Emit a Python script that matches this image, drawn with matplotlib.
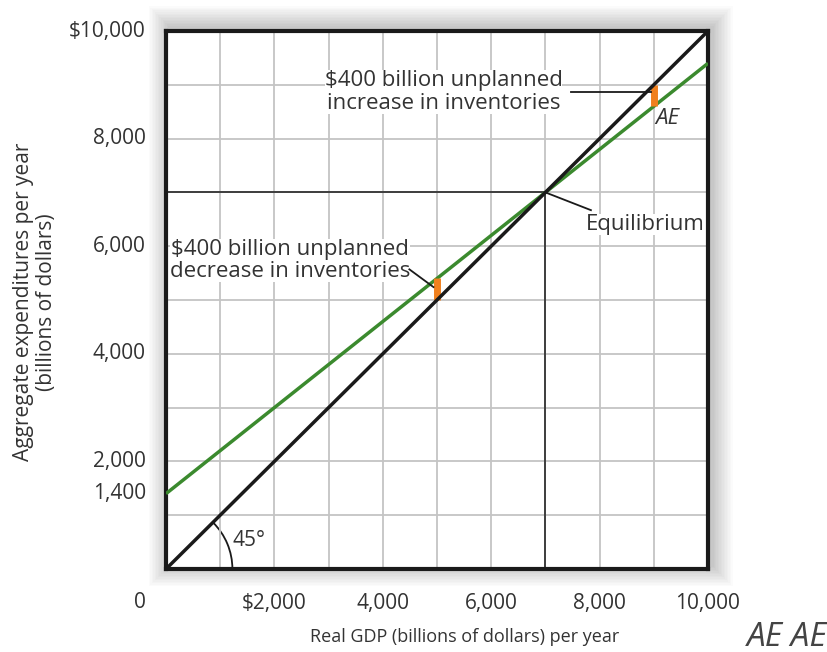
import matplotlib.pyplot as plt
from matplotlib.patches import Rectangle, Arc
import numpy as np

plt.rcParams['font.family'] = ['Open Sans', 'DejaVu Sans']

# data (billions of dollars)
gdp = np.array([0, 10000])
ae_intercept = 1400
ae_slope = 0.8
ae = ae_intercept + ae_slope * gdp
equilibrium = 7000
gap_low_x = 5000    # decrease in inventories
gap_high_x = 9000   # increase in inventories

yticks = [10000, 8000, 6000, 4000, 2000, 1400]
ytick_labels = ['$10,000', '8,000', '6,000', '4,000', '2,000', '1,400']
xticks = [2000, 4000, 6000, 8000, 10000]
xtick_labels = ['$2,000', '4,000', '6,000', '8,000', '10,000']

green = '#3b8a2e'
orange = '#f0801e'
txt = '#333333'

fig = plt.figure(figsize=(8.28, 6.52), dpi=100)
ax = fig.add_axes([166/828, 1 - 569/652, 542/828, 538/652])
ax.set_zorder(2)

# soft drop shadow behind the frame
for i in range(14):
    pad = (i + 1) * 1.5
    fig.patches.append(Rectangle(((166 - pad + 4)/828, (1 - 569/652) - (pad - 4)/652),
                                 (542 + 2*pad)/828, (538 + 2*pad)/652,
                                 transform=fig.transFigure, color='black',
                                 alpha=0.014, lw=0, zorder=0))

ax.set_xlim(0, 10000)
ax.set_ylim(0, 10000)
ax.set_xticks(np.arange(0, 10001, 1000))
ax.set_yticks(np.arange(0, 10001, 1000))
ax.grid(True, color='#c4c4c4', lw=1.3)
ax.tick_params(length=0, labelbottom=False, labelleft=False)
for s in ax.spines.values():
    s.set_linewidth(3)
    s.set_color('#1a1a1a')

# 45 degree line and AE line
ax.plot(gdp, gdp, color='#1a1a1a', lw=2.5, zorder=4, solid_capstyle='butt')
ax.plot(gdp, ae, color=green, lw=2.5, zorder=3, solid_capstyle='butt')

# equilibrium guides
ax.plot([0, equilibrium], [equilibrium, equilibrium], color='#333333', lw=1.3, zorder=2)
ax.plot([equilibrium, equilibrium], [0, equilibrium], color='#333333', lw=1.3, zorder=2)

# unplanned inventory gaps
for gx in [gap_low_x, gap_high_x]:
    ax.plot([gx, gx], [gx, ae_intercept + ae_slope * gx], color=orange, lw=5,
            zorder=3.5, solid_capstyle='butt')

# 45 degree arc
ax.add_patch(Arc((0, 0), 2450, 2450, theta1=0, theta2=45, color='#1a1a1a', lw=1.3))
ax.text(1230, 530, '45°', fontsize=15, color=txt, va='center')

# annotations
ax.text(5120, 8870, '$400 billion unplanned\nincrease in inventories', fontsize=16,
        color=txt, ha='center', va='center', linespacing=1.1,
        bbox=dict(facecolor='white', edgecolor='none', pad=0))
ax.plot([7470, 8950], [8860, 8860], color='#1a1a1a', lw=1.3, zorder=5)
ax.text(9250, 8380, 'AE', fontsize=16, style='italic', color=txt, ha='center', va='center')

ax.text(2290, 5735, '$400 billion unplanned\ndecrease in inventories', fontsize=16,
        color=txt, ha='center', va='center', linespacing=1.1,
        bbox=dict(facecolor='white', edgecolor='none', pad=0))
ax.plot([4490, 4935], [5570, 5240], color='#1a1a1a', lw=1.3, zorder=5)

ax.plot([equilibrium, 7840], [equilibrium, 6670], color='#1a1a1a', lw=1.3, zorder=5)
ax.text(8850, 6400, 'Equilibrium', fontsize=16, color=txt, ha='center', va='center',
        bbox=dict(facecolor='white', edgecolor='none', pad=0))

# tick labels placed outside the frame
for v, lab in zip(yticks, ytick_labels):
    ax.annotate(lab, xy=(0, v), xycoords=('axes fraction', 'data'), xytext=(-20, 0),
                textcoords='offset pixels', ha='right', va='center', fontsize=15, color=txt)
for v, lab in zip(xticks, xtick_labels):
    ax.annotate(lab, xy=(v, 0), xycoords=('data', 'axes fraction'), xytext=(0, -34),
                textcoords='offset pixels', ha='center', va='center', fontsize=15, color=txt)
ax.annotate('0', xy=(0, 0), xycoords='axes fraction', xytext=(-26, -34),
            textcoords='offset pixels', ha='center', va='center', fontsize=15, color=txt)

fig.text(465/828, 1 - 637/652, 'Real GDP (billions of dollars) per year', fontsize=13,
         color=txt, ha='center', va='center')
fig.text(35/828, 1 - 302/652, 'Aggregate expenditures per year\n(billions of dollars)',
         fontsize=15, color=txt, ha='center', va='center', rotation=90, linespacing=1.1)
fig.text(828/828, 1 - 637/652, 'AE AE', fontsize=24, style='italic', color='#444444',
         ha='right', va='center')

fig.savefig('out.png', dpi=100)
